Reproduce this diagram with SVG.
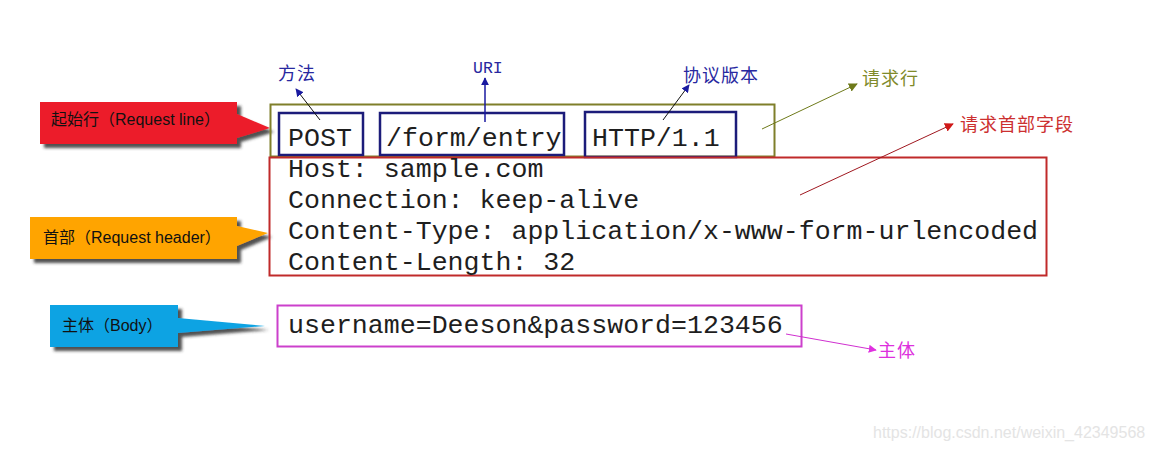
<svg xmlns="http://www.w3.org/2000/svg" width="1154" height="451" viewBox="0 0 1154 451">
<style>
.mono{font-family:"Liberation Mono","Courier New",monospace;font-size:26.6px;fill:#1e1e1e}
.call{font-family:"Liberation Sans","Noto Sans CJK SC",sans-serif;font-size:16px;fill:#111}
.lbl{font-family:"Noto Sans CJK SC",sans-serif;font-size:18px;letter-spacing:1px}
.box{fill:none}
</style>
<defs>
<filter id="sh" x="-10%" y="-20%" width="130%" height="160%">
<feDropShadow dx="4" dy="4" stdDeviation="1.5" flood-color="#303030" flood-opacity="0.85"/>
</filter>
<marker id="aNavy" viewBox="0 0 10 10" refX="9" refY="5" markerWidth="8" markerHeight="8" orient="auto" markerUnits="userSpaceOnUse"><path d="M0,0 L10,5 L0,10 Z" fill="#1a1aa0"/></marker>
<marker id="aOlive" viewBox="0 0 10 10" refX="9" refY="5" markerWidth="9" markerHeight="9" orient="auto" markerUnits="userSpaceOnUse"><path d="M0,0 L10,5 L0,10 Z" fill="#6e7a1a"/></marker>
<marker id="aRed" viewBox="0 0 10 10" refX="9" refY="5" markerWidth="9" markerHeight="9" orient="auto" markerUnits="userSpaceOnUse"><path d="M0,0 L10,5 L0,10 Z" fill="#d01818"/></marker>
<marker id="aMag" viewBox="0 0 10 10" refX="9" refY="5" markerWidth="8" markerHeight="8" orient="auto" markerUnits="userSpaceOnUse"><path d="M0,0 L10,5 L0,10 Z" fill="#e030e0"/></marker>
</defs>
<rect width="1154" height="451" fill="#ffffff"/>

<g id="callout-start-line">
<path d="M40,102 H237 V114 L270,128 L237,138 V144 H40 Z" fill="#ec1c2a" filter="url(#sh)"/>
<text class="call" x="51" y="125">起始行（Request line）</text>
</g>
<g id="callout-header">
<path d="M30,217 H237 V226 L268,233 L237,246 V259 H30 Z" fill="#ffa400" filter="url(#sh)"/>
<text class="call" x="43" y="243">首部（Request header）</text>
</g>
<g id="callout-body">
<path d="M50,305 H178 V318 L265,326 L178,333 V347 H50 Z" fill="#11a3e3" filter="url(#sh)"/>
<text class="call" x="62" y="331">主体（Body）</text>
</g>

<g id="request-line">
<rect class="box" x="270.5" y="104.5" width="504" height="52" stroke="#7f7f2a" stroke-width="2"/>
</g>
<g id="method">
<rect class="box" x="279" y="113" width="84" height="42" stroke="#1c1c7a" stroke-width="2.5"/>
<text class="mono" x="288" y="146">POST</text>
</g>
<g id="uri">
<rect class="box" x="380" y="113" width="184" height="42" stroke="#1c1c7a" stroke-width="2.5"/>
<text class="mono" x="386" y="146">/form/entry</text>
</g>
<g id="version">
<rect class="box" x="585" y="112" width="151" height="45" stroke="#1c1c7a" stroke-width="2.5"/>
<text class="mono" x="592" y="146">HTTP/1.1</text>
</g>
<g id="headers">
<rect class="box" x="269.5" y="157.5" width="777" height="118" stroke="#c02a2a" stroke-width="2"/>
<text class="mono" x="288" y="177">Host: sample.com</text>
<text class="mono" x="288" y="208">Connection: keep-alive</text>
<text class="mono" x="288" y="239">Content-Type: application/x-www-form-urlencoded</text>
<text class="mono" x="288" y="270">Content-Length: 32</text>
</g>
<g id="body">
<rect class="box" x="277.5" y="305.5" width="524" height="41" stroke="#cc40cc" stroke-width="2"/>
<text class="mono" x="288" y="333">username=Deeson&amp;password=123456</text>
</g>

<g id="labels">
<text class="lbl" x="278" y="80" fill="#2828a0">方法</text>
<text x="473" y="73" fill="#2828a0" font-family="Liberation Mono,monospace" font-size="16.5">URI</text>
<text class="lbl" x="683" y="82" fill="#2828a0">协议版本</text>
<text class="lbl" x="862" y="85" fill="#7f8a2a">请求行</text>
<text class="lbl" x="960" y="131" fill="#cc3030">请求首部字段</text>
<text class="lbl" x="878" y="357" fill="#dd30dd">主体</text>
</g>

<g id="connectors" fill="none">
<line x1="320" y1="120" x2="296" y2="89" stroke="#111" stroke-width="1" marker-end="url(#aNavy)"/>
<line x1="485" y1="122" x2="485" y2="78" stroke="#1a1aa0" stroke-width="1.5" marker-end="url(#aNavy)"/>
<line x1="663" y1="120" x2="689" y2="85" stroke="#111" stroke-width="1" marker-end="url(#aNavy)"/>
<line x1="762" y1="129" x2="857" y2="84" stroke="#6e7a1a" stroke-width="1" marker-end="url(#aOlive)"/>
<line x1="800" y1="195" x2="953" y2="124" stroke="#a01820" stroke-width="1" marker-end="url(#aRed)"/>
<line x1="786" y1="334" x2="876" y2="350" stroke="#d030d0" stroke-width="1" marker-end="url(#aMag)"/>
</g>

<text x="873" y="438" fill="#e4e4e4" font-family="Liberation Sans,Arial,sans-serif" font-size="16">https://blog.csdn.net/weixin_42349568</text>
</svg>
